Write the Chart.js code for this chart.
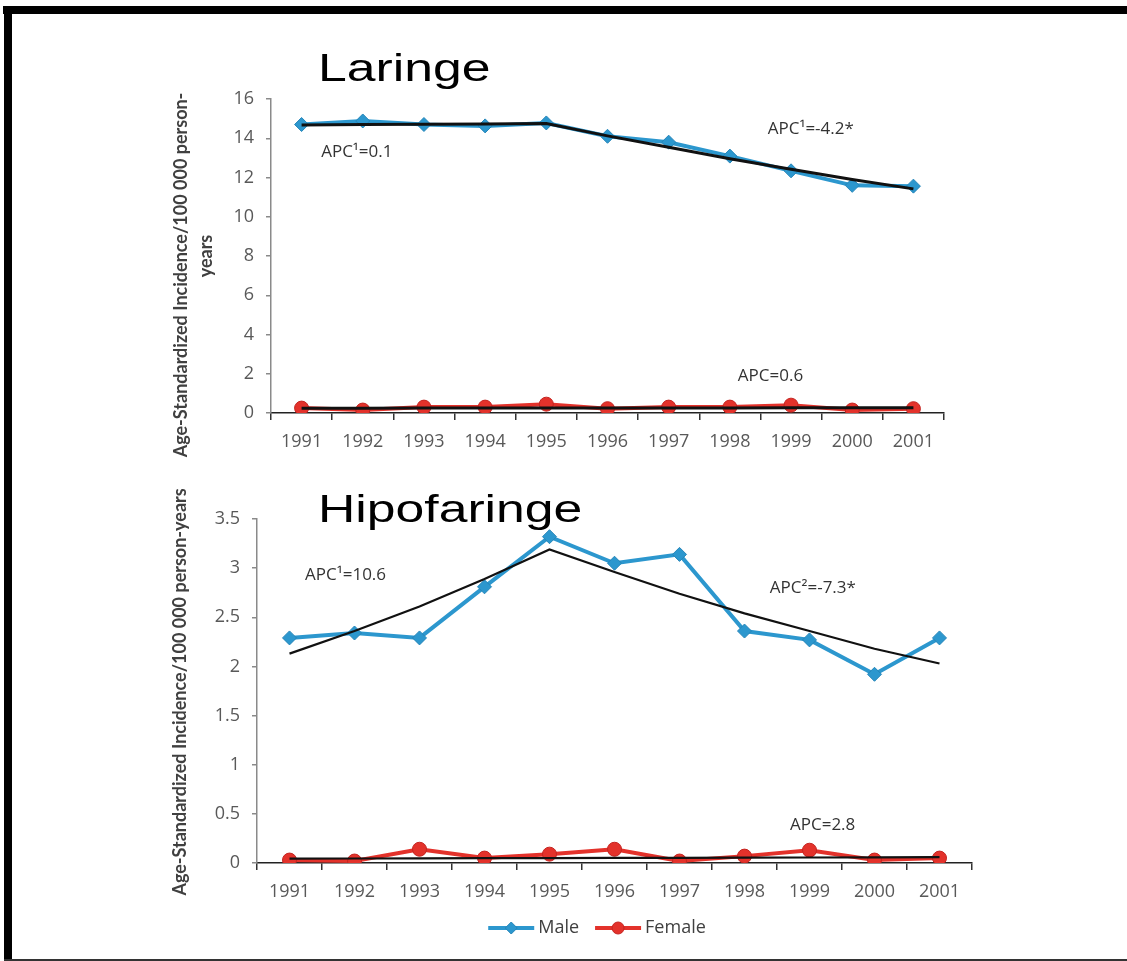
<!DOCTYPE html>
<html>
<head>
<meta charset="utf-8">
<script src="https://cdn.jsdelivr.net/npm/chart.js@4.4.0/dist/chart.umd.min.js"></script>
<style>
  body { margin: 0; background: #fff; }
  #page { position: relative; width: 1127px; height: 961px; overflow: hidden; background: #fff; }
  .frame-top { position: absolute; left: 3px; top: 6px; width: 1124px; height: 8px; background: #000; }
  .frame-left { position: absolute; left: 4px; top: 6px; width: 8px; height: 953px; background: #000; }
  .frame-bottom { position: absolute; left: 4px; top: 959px; width: 1123px; height: 2px; background: #333; }
  .chart-title { position: absolute; font-family: "Liberation Sans", Arial, sans-serif; font-size: 38px;
                 line-height: 38px; color: #000; transform: scaleX(1.36); transform-origin: left top; white-space: nowrap; }
  canvas { position: absolute; left: 0; }
</style>
</head>
<body>
<div id="page">
  <div class="frame-top"></div>
  <div class="frame-left"></div>
  <div class="frame-bottom"></div>
  <canvas id="laringeChart" width="1127" height="480" style="top:0"></canvas>
  <canvas id="hipoChart" width="1127" height="481" style="top:480px"></canvas>
  <div class="chart-title" style="left:318px; top:49px;">Laringe</div>
  <div class="chart-title" style="left:318px; top:490px;">Hipofaringe</div>
</div>
<script>
const years = ["1991", "1992", "1993", "1994", "1995", "1996", "1997", "1998", "1999", "2000", "2001"];

// Laringe
const laringeMale = [14.7, 14.88, 14.7, 14.63, 14.78, 14.1, 13.8, 13.09, 12.34, 11.6, 11.56];
const laringeFemale = [0.25, 0.15, 0.3, 0.3, 0.45, 0.22, 0.3, 0.3, 0.4, 0.15, 0.22];
const laringeMaleTrend = [14.68, 14.7, 14.71, 14.73, 14.75, 14.12, 13.54, 12.96, 12.42, 11.9, 11.42];
const laringeFemaleTrend = [0.24, 0.24, 0.25, 0.25, 0.25, 0.26, 0.26, 0.26, 0.27, 0.27, 0.27];

// Hipofaringe
const hipoMale = [2.29, 2.34, 2.29, 2.81, 3.32, 3.05, 3.14, 2.36, 2.27, 1.92, 2.29];
const hipoFemale = [0.03, 0.02, 0.14, 0.05, 0.09, 0.14, 0.02, 0.07, 0.13, 0.03, 0.05];
const hipoMaleTrend = [2.13, 2.36, 2.61, 2.89, 3.19, 2.96, 2.74, 2.54, 2.36, 2.18, 2.03];
const hipoFemaleTrend = [0.045, 0.046, 0.048, 0.049, 0.05, 0.052, 0.053, 0.055, 0.056, 0.058, 0.06];

// axis ranges
const laringeAxis = { min: 0, max: 16, step: 2 };
const hipoAxis = { min: 0, max: 3.5, step: 0.5 };

// APC labels (x in category index, y in data units)
const laringeNotes = [
  { text: "APC\u00B9=0.1", x: 0.32, y: 13.3 },
  { text: "APC\u00B9=-4.2*", x: 7.62, y: 14.46 },
  { text: "APC=0.6", x: 7.13, y: 1.9 }
];
const hipoNotes = [
  { text: "APC\u00B9=10.6", x: 0.24, y: 2.93 },
  { text: "APC\u00B2=-7.3*", x: 7.39, y: 2.8 },
  { text: "APC=2.8", x: 7.7, y: 0.39 }
];

const blue = "#2C97CE";
const red = "#E3322B";
const tickColor = "#595959";

function makeDatasets(male, female, maleTrend, femaleTrend, trendWidth) {
  // trend lines first so they are painted on top
  return [
    { label: "trend-m", data: maleTrend, borderColor: "#111", borderWidth: trendWidth, pointRadius: 0, fill: false, tension: 0 },
    { label: "trend-f", data: femaleTrend, borderColor: "#111", borderWidth: trendWidth, pointRadius: 0, fill: false, tension: 0 },
    { label: "Male", data: male, borderColor: blue, backgroundColor: blue, borderWidth: 4,
      pointStyle: "rectRot", pointRadius: 7, pointBorderWidth: 1, pointBackgroundColor: blue, pointBorderColor: "#2585B8", legendItem: true },
    { label: "Female", data: female, borderColor: red, backgroundColor: red, borderWidth: 4,
      pointStyle: "circle", pointRadius: 7, pointBorderWidth: 1, pointBackgroundColor: red, pointBorderColor: "#C42420", legendItem: true }
  ];
}

const notesPlugin = {
  id: "apcNotes",
  afterDatasetsDraw(chart, args, opts) {
    const { ctx } = chart;
    const xs = chart.scales.x, ys = chart.scales.y;
    ctx.save();
    ctx.font = "17px 'Open Sans', sans-serif";
    ctx.fillStyle = "#333";
    ctx.textAlign = "left";
    ctx.textBaseline = "middle";
    (opts.items || []).forEach(n => {
      ctx.fillText(n.text, xs.getPixelForValue(n.x), ys.getPixelForValue(n.y));
    });
    ctx.restore();
  }
};

// rotated y axis title, lines placed relative to the plot's vertical centre
const yTitlePlugin = {
  id: "yTitle",
  afterDraw(chart, args, opts) {
    const { ctx, chartArea } = chart;
    const mid = (chartArea.top + chartArea.bottom) / 2;
    ctx.save();
    ctx.font = "bold 18px Lato, sans-serif";
    ctx.fillStyle = "#404040";
    ctx.textAlign = "center";
    ctx.textBaseline = "middle";
    (opts.lines || []).forEach(l => {
      ctx.save();
      ctx.translate(l.x, mid + l.dy);
      ctx.rotate(-Math.PI / 2);
      ctx.fillText(l.text, 0, 0);
      ctx.restore();
    });
    ctx.restore();
  }
};

// excel style legend: line segment with marker, then the name
const lineLegendPlugin = {
  id: "lineLegend",
  afterDraw(chart, args, opts) {
    if (!opts.show) return;
    const { ctx } = chart;
    const items = chart.data.datasets.filter(d => d.legendItem);
    ctx.save();
    ctx.font = "18px 'Open Sans', sans-serif";
    const seg = 46, gap = 4, between = 16;
    let total = 0;
    items.forEach((d, i) => {
      total += seg + gap + ctx.measureText(d.label).width + (i ? between : 0);
    });
    let x = opts.centerX - total / 2;
    const y = opts.y;
    items.forEach(d => {
      ctx.strokeStyle = d.borderColor;
      ctx.lineWidth = 4;
      ctx.beginPath();
      ctx.moveTo(x, y);
      ctx.lineTo(x + seg, y);
      ctx.stroke();
      ctx.fillStyle = d.pointBackgroundColor;
      ctx.strokeStyle = d.pointBorderColor;
      ctx.lineWidth = 1;
      Chart.helpers.drawPoint(ctx, { pointStyle: d.pointStyle, radius: 6, rotation: 0, borderWidth: 1 }, x + seg / 2, y);
      x += seg + gap;
      ctx.fillStyle = "#404040";
      ctx.textAlign = "left";
      ctx.textBaseline = "middle";
      ctx.fillText(d.label, x, y);
      x += ctx.measureText(d.label).width + between;
    });
    ctx.restore();
  }
};

function makeChart(canvasId, cfg) {
  const canvas = document.getElementById(canvasId);
  return new Chart(canvas, {
    type: "line",
    data: { labels: years, datasets: cfg.datasets },
    plugins: [notesPlugin, yTitlePlugin, lineLegendPlugin],
    options: {
      responsive: false,
      animation: false,
      devicePixelRatio: 1,
      layout: { padding: cfg.padding },
      plugins: {
        legend: { display: false },
        tooltip: { enabled: false },
        apcNotes: { items: cfg.notes },
        yTitle: { lines: cfg.yTitle },
        lineLegend: cfg.legend || { show: false }
      },
      scales: {
        x: {
          offset: true,
          grid: { offset: true, drawOnChartArea: false, drawTicks: true, tickLength: 7, color: "#333", lineWidth: 1.5 },
          border: { display: true, color: "#222", width: 1.5 },
          ticks: { color: tickColor, font: { family: "'Open Sans'", size: 18 }, padding: 11, maxRotation: 0, autoSkip: false },
          afterFit(s) { s.height = 50; }
        },
        y: {
          min: cfg.axis.min,
          max: cfg.axis.max,
          ticks: {
            stepSize: cfg.axis.step, color: tickColor, font: { family: "'Open Sans'", size: 18 }, padding: 12,
            callback: v => String(Number(v))
          },
          grid: { drawOnChartArea: false, drawTicks: true, tickLength: 5, color: "#8a8a8a", lineWidth: 1.5 },
          border: { display: true, color: "#8a8a8a", width: 1.5 },
          afterFit(s) { s.width = cfg.yWidth; }
        }
      }
    }
  });
}

makeChart("laringeChart", {
  datasets: makeDatasets(laringeMale, laringeFemale, laringeMaleTrend, laringeFemaleTrend, 3),
  axis: laringeAxis,
  notes: laringeNotes,
  padding: { left: 150, right: 183, top: 99, bottom: 17 },
  yWidth: 121,
  yTitle: [
    { text: "Age-Standardized Incidence/100 000 person-", x: 181, dy: 19 },
    { text: "years", x: 206, dy: 0 }
  ]
});

makeChart("hipoChart", {
  datasets: makeDatasets(hipoMale, hipoFemale, hipoMaleTrend, hipoFemaleTrend, 2.2),
  axis: hipoAxis,
  notes: hipoNotes,
  padding: { left: 150, right: 155, top: 39, bottom: 48 },
  yWidth: 107,
  yTitle: [
    { text: "Age-Standardized Incidence/100 000 person-years", x: 180, dy: 1 }
  ],
  legend: { show: true, centerX: 597, y: 448 }
});
</script>
</body>
</html>
